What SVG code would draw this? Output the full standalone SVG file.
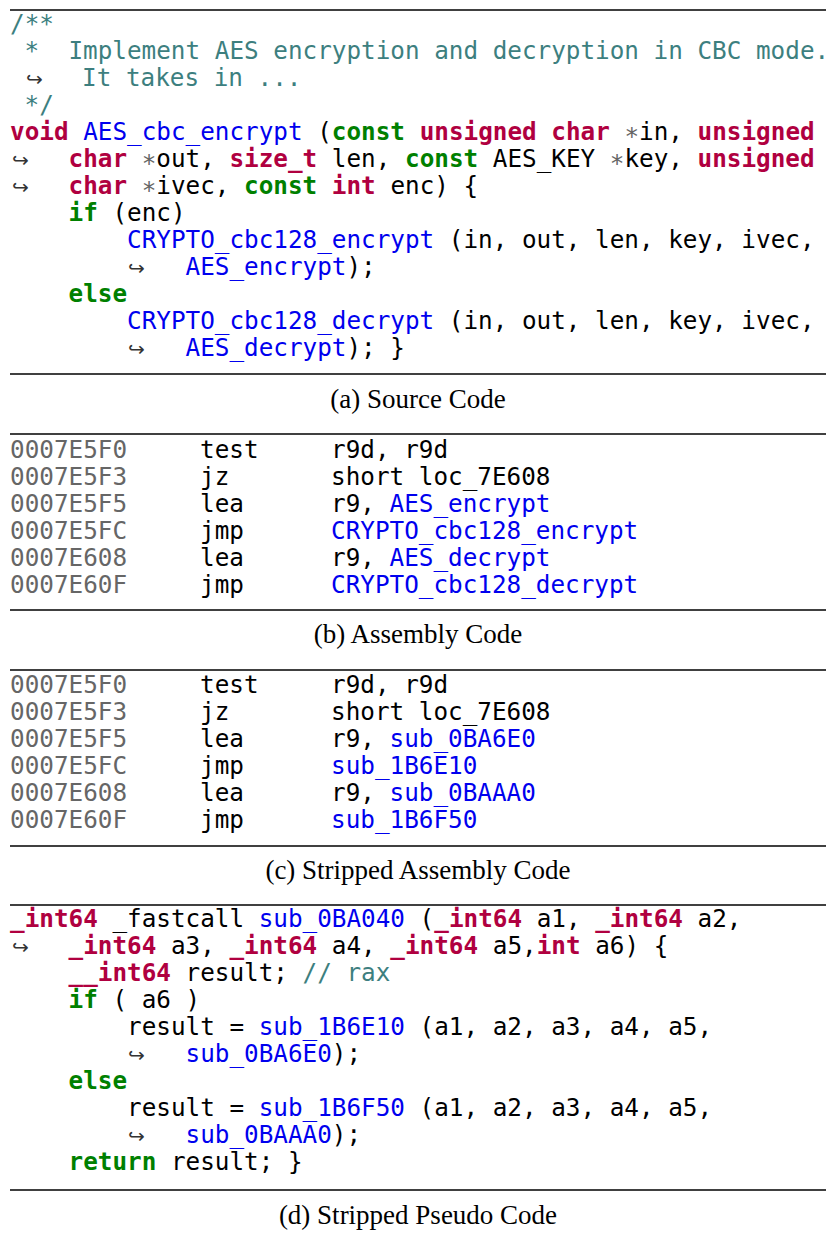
<svg xmlns="http://www.w3.org/2000/svg" width="831" height="1236" viewBox="0 0 831 1236">
<style>
.c{font-family:"DejaVu Sans Mono",monospace;font-size:24.3px;fill:#000;white-space:pre}
.cm{fill:#3d7f7f}
.k{fill:#b00040;font-weight:bold}
.g{fill:#008000;font-weight:bold}
.b{fill:#0000ee}
.a{fill:#666}
.s{fill:#666}
.w{font-family:"DejaVu Sans",sans-serif;font-size:20px;fill:#333}
.cap{font-family:"Liberation Serif",serif;font-size:27px;fill:#000;text-anchor:middle}
line{stroke:#000;stroke-width:1.3}
</style>
<rect width="831" height="1236" fill="#fff"/>
<line x1="10" y1="10" x2="826" y2="10"/>
<line x1="10" y1="374" x2="826" y2="374"/>
<line x1="10" y1="434" x2="826" y2="434"/>
<line x1="10" y1="610" x2="826" y2="610"/>
<line x1="10" y1="670" x2="826" y2="670"/>
<line x1="10" y1="846" x2="826" y2="846"/>
<line x1="10" y1="905" x2="826" y2="905"/>
<line x1="10" y1="1190" x2="826" y2="1190"/>
<g class="c" xml:space="preserve">
<text x="10" y="32" class="cm">/**</text>
<text x="24.6" y="59" class="cm">*&#160;&#160;Implement AES encryption and decryption in CBC mode.</text>
<text x="26" y="86" class="w">↪</text><text x="82" y="86" class="cm">It takes in ...</text>
<text x="24.6" y="113" class="cm">*/</text>
<text x="10" y="140"><tspan class="k">void</tspan> <tspan class="b">AES_cbc_encrypt</tspan> (<tspan class="g">const</tspan> <tspan class="k">unsigned</tspan> <tspan class="k">char</tspan> <tspan class="s">∗</tspan>in, <tspan class="k">unsigned</tspan></text>
<text x="12" y="167" class="w">↪</text><text x="68.5" y="167"><tspan class="k">char</tspan> <tspan class="s">∗</tspan>out, <tspan class="k">size_t</tspan> len, <tspan class="g">const</tspan> AES_KEY <tspan class="s">∗</tspan>key, <tspan class="k">unsigned</tspan></text>
<text x="12" y="194" class="w">↪</text><text x="68.5" y="194"><tspan class="k">char</tspan> <tspan class="s">∗</tspan>ivec, <tspan class="g">const</tspan> <tspan class="k">int</tspan> enc) {</text>
<text x="68.5" y="221"><tspan class="g">if</tspan> (enc)</text>
<text x="127" y="248"><tspan class="b">CRYPTO_cbc128_encrypt</tspan> (in, out, len, key, ivec,</text>
<text x="128" y="275" class="w">↪</text><text x="185.5" y="275"><tspan class="b">AES_encrypt</tspan>);</text>
<text x="68.5" y="302" class="g">else</text>
<text x="127" y="329"><tspan class="b">CRYPTO_cbc128_decrypt</tspan> (in, out, len, key, ivec,</text>
<text x="128" y="356" class="w">↪</text><text x="185.5" y="356"><tspan class="b">AES_decrypt</tspan>); }</text>
</g>
<text x="418" y="408" class="cap">(a) Source Code</text>
<g class="c">
<text x="10" y="458" class="a">0007E5F0</text><text x="200" y="458">test</text><text x="331" y="458">r9d, r9d</text>
<text x="10" y="485" class="a">0007E5F3</text><text x="200" y="485">jz</text><text x="331" y="485">short loc_7E608</text>
<text x="10" y="512" class="a">0007E5F5</text><text x="200" y="512">lea</text><text x="331" y="512">r9, <tspan class="b">AES_encrypt</tspan></text>
<text x="10" y="539" class="a">0007E5FC</text><text x="200" y="539">jmp</text><text x="331" y="539" class="b">CRYPTO_cbc128_encrypt</text>
<text x="10" y="566" class="a">0007E608</text><text x="200" y="566">lea</text><text x="331" y="566">r9, <tspan class="b">AES_decrypt</tspan></text>
<text x="10" y="593" class="a">0007E60F</text><text x="200" y="593">jmp</text><text x="331" y="593" class="b">CRYPTO_cbc128_decrypt</text>
</g>
<text x="418" y="643" class="cap">(b) Assembly Code</text>
<g class="c">
<text x="10" y="693" class="a">0007E5F0</text><text x="200" y="693">test</text><text x="331" y="693">r9d, r9d</text>
<text x="10" y="720" class="a">0007E5F3</text><text x="200" y="720">jz</text><text x="331" y="720">short loc_7E608</text>
<text x="10" y="747" class="a">0007E5F5</text><text x="200" y="747">lea</text><text x="331" y="747">r9, <tspan class="b">sub_0BA6E0</tspan></text>
<text x="10" y="774" class="a">0007E5FC</text><text x="200" y="774">jmp</text><text x="331" y="774" class="b">sub_1B6E10</text>
<text x="10" y="801" class="a">0007E608</text><text x="200" y="801">lea</text><text x="331" y="801">r9, <tspan class="b">sub_0BAAA0</tspan></text>
<text x="10" y="828" class="a">0007E60F</text><text x="200" y="828">jmp</text><text x="331" y="828" class="b">sub_1B6F50</text>
</g>
<text x="418" y="879" class="cap">(c) Stripped Assembly Code</text>
<g class="c" xml:space="preserve">
<text x="10" y="927"><tspan class="k">_int64</tspan> _fastcall <tspan class="b">sub_0BA040</tspan> (<tspan class="k">_int64</tspan> a1, <tspan class="k">_int64</tspan> a2,</text>
<text x="12" y="954" class="w">↪</text><text x="68.5" y="954"><tspan class="k">_int64</tspan> a3, <tspan class="k">_int64</tspan> a4, <tspan class="k">_int64</tspan> a5,<tspan class="k">int</tspan> a6) {</text>
<text x="68.5" y="981"><tspan class="k">__int64</tspan> result; <tspan class="cm">// rax</tspan></text>
<text x="68.5" y="1008"><tspan class="g">if</tspan> ( a6 )</text>
<text x="127" y="1035">result = <tspan class="b">sub_1B6E10</tspan> (a1, a2, a3, a4, a5,</text>
<text x="128" y="1062" class="w">↪</text><text x="185.5" y="1062"><tspan class="b">sub_0BA6E0</tspan>);</text>
<text x="68.5" y="1089" class="g">else</text>
<text x="127" y="1116">result = <tspan class="b">sub_1B6F50</tspan> (a1, a2, a3, a4, a5,</text>
<text x="128" y="1143" class="w">↪</text><text x="185.5" y="1143"><tspan class="b">sub_0BAAA0</tspan>);</text>
<text x="68.5" y="1170"><tspan class="g">return</tspan> result; }</text>
</g>
<text x="418" y="1224" class="cap">(d) Stripped Pseudo Code</text>
</svg>
